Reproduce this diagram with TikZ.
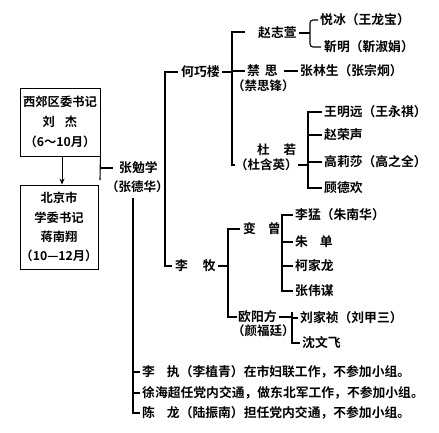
\documentclass[tikz,border=0pt]{standalone}
\usepackage{fontspec}
\newfontfamily\cjk{Noto Sans CJK SC}[BoldFont={* Bold}]
\usetikzlibrary{arrows.meta}
\begin{document}
\begin{tikzpicture}[x=1pt,y=-1pt,
  lbl/.style={anchor=west, inner sep=0pt, font=\cjk\bfseries\fontsize{12.8}{15}\selectfont},
  alias/.style={lbl, font=\cjk\bfseries\fontsize{12.5}{14}\selectfont},
  tree/.style={line width=1.1pt},
  box/.style={draw, line width=0.9pt, align=center, inner sep=0pt,
              font=\cjk\bfseries\fontsize{12.3}{20}\selectfont}]
\useasboundingbox (0,0) rectangle (439,432);

% committee secretaries
\node[box, minimum width=80pt, minimum height=68pt] (sec1) at (60,122)
  {西郊区委书记\\刘\hspace{10pt}杰\\（6～10月）};
\node[box, minimum width=78pt, minimum height=84pt,
      font=\cjk\bfseries\fontsize{12.3}{19.3}\selectfont] (sec2) at (59,227)
  {北京市\\学委书记\\蒋南翔\\（10—12月）};
\draw[line width=0.9pt, -{Stealth[length=6pt,width=5pt]}]
  ([xshift=2pt]sec1.south) -- ([xshift=2pt]sec1.south |- sec2.north);

% group leader
\node[lbl] (zmx) at (119,168) {张勉学};
\node[alias] (zmxa) at (106,187) {（张德华）};
\coordinate (edge1) at (100,180);
\draw[tree] (sec1.south east) -- (edge1);
\draw[tree] (sec1.south east |- zmx.west) -- ([xshift=-6pt]zmx.west);

% first level
\node[lbl] (hq) at (181,72) {何巧楼};
\node[lbl] (lm) at (175,266) {李\hspace{15pt}牧};
\coordinate (tA) at (165,0);
\draw[tree] ([xshift=-3pt]hq.west) -- (tA |- hq.west) -- (tA |- lm.west) -- ([xshift=-3pt]lm.west);

% He Qiaolou branch
\node[lbl] (zzx) at (258,33) {赵志萱};
\node[lbl] (js) at (247,71) {禁\hspace{5pt}思};
\node[alias] (jsa) at (232,86) {（禁思锋）};
\node[alias] (dr) at (257,150) {杜\hspace{14pt}若};
\node[alias] (dra) at (235,165) {（杜含英）};
\coordinate (tH) at (232,0);
\coordinate (hTop) at (245,32);
\draw[tree] ([xshift=2pt]hq.east) -- (tH |- hq.east);
\draw[tree] (hTop) -- (tH |- hTop) -- (tH |- dra.west) -- (dra.west);
\draw[tree] (tH |- js.west) -- ([xshift=-2pt]js.west);

% Zhao Zhixuan
\node[lbl] (yb) at (320,20) {悦冰（王龙宝）};
\node[lbl] (jm) at (324,47) {靳明（靳淑娟）};
\coordinate (tZ) at (310,0);
\draw[tree] ([xshift=2pt]zzx.east) -- (tZ |- zzx.east);
\draw[tree, rounded corners=3pt] ([xshift=-2pt]yb.west) -- (tZ |- yb.west) -- (tZ |- jm.west) -- ([xshift=-3pt]jm.west);

% Jin Si
\node[lbl] (zls) at (300,71) {张林生（张宗炯）};
\draw[tree] ([xshift=6pt]js.east) -- ([xshift=-2pt]zls.west);

% Du Ruo
\node[lbl] (wmy) at (324,112) {王明远（王永祺）};
\node[lbl] (zrs) at (324,135) {赵荣声};
\node[lbl] (gls) at (324,162) {高莉莎（高之全）};
\node[lbl] (gdh) at (324,188) {顾德欢};
\coordinate (tD) at (308,0);
\draw[tree] (dra.east) -- (tD |- dra.east);
\draw[tree] ([xshift=-2pt]wmy.west) -- (tD |- wmy.west) -- (tD |- gdh.west) -- ([xshift=-2pt]gdh.west);
\draw[tree] (tD |- zrs.west) -- ([xshift=-2pt]zrs.west);
\draw[tree] (tD |- gls.west) -- ([xshift=-2pt]gls.west);

% Li Mu branch
\node[lbl] (bz) at (243,229) {变\hspace{12pt}曾};
\node[lbl] (oyf) at (238,317) {欧阳方};
\node[alias] (oyfa) at (232,331) {（颜福廷）};
\coordinate (tL) at (228,0);
\draw[tree] ([xshift=2pt]lm.east) -- (tL |- lm.east);
\draw[tree] ([xshift=-3pt]bz.west) -- (tL |- bz.west) -- (tL |- oyf.west) -- ([xshift=-1pt]oyf.west);

% Bian Zeng
\node[lbl] (lmg) at (295,215) {李猛（朱南华）};
\node[lbl] (zd) at (295,242) {朱\hspace{12pt}单};
\node[lbl] (kjl) at (295,266) {柯家龙};
\node[lbl] (zwm) at (295,291) {张伟谋};
\coordinate (tB) at (282,0);
\draw[tree] ([xshift=-2pt]lmg.west) -- (tB |- lmg.west) -- (tB |- zwm.west) -- ([xshift=-2pt]zwm.west);
\draw[tree] (tB |- zd.west) -- ([xshift=-2pt]zd.west);
\draw[tree] (tB |- kjl.west) -- ([xshift=-2pt]kjl.west);

% Ouyang Fang
\node[lbl] (ljz) at (300,318) {刘家祯（刘甲三）};
\node[lbl] (swf) at (302,343) {沈文飞};
\coordinate (tO) at (292,0);
\draw[tree] ([xshift=2pt]oyf.east) -- (tO |- oyf.east);
\draw[tree] (tO |- 0,312) -- (tO |- swf.west) -- ([xshift=-2pt]swf.west);
\draw[tree] (tO |- ljz.west) -- ([xshift=-2pt]ljz.west);

% members outside the groups
\node[lbl] (nb1) at (142,372) {李\hspace{12pt}执（李植青）在市妇联工作，不参加小组。};
\node[lbl] (nb2) at (142,393) {徐海超任党内交通，做东北军工作，不参加小组。};
\node[lbl] (nb3) at (142,413) {陈\hspace{12pt}龙（陆振南）担任党内交通，不参加小组。};
\coordinate (tM) at (133,198);
\draw[tree] (tM) -- (tM |- nb3.west) -- ([xshift=-2pt]nb3.west);
\draw[tree] (tM |- nb1.west) -- ([xshift=-2pt]nb1.west);
\draw[tree] (tM |- nb2.west) -- ([xshift=-2pt]nb2.west);
\end{tikzpicture}
\end{document}
